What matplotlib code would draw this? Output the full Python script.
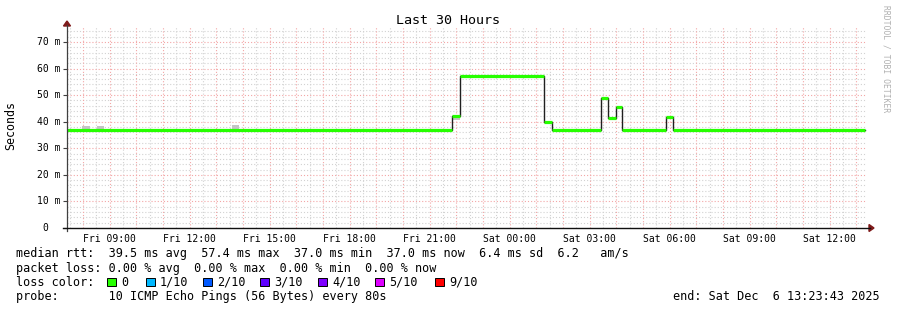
"""Smokeping style latency graph, last 30 hours."""
import matplotlib
matplotlib.use('Agg')

import matplotlib.pyplot as plt
import matplotlib.dates as mdates
from matplotlib.lines import Line2D
from matplotlib.patches import Polygon, Rectangle
import pandas as pd

# --- data ---
start = pd.Timestamp('2025-12-05 07:23:43')
end = pd.Timestamp('2025-12-06 13:23:43')
data_end = pd.Timestamp('2025-12-06 13:19:00')

step_times = [
    '2025-12-05 07:23:43', '2025-12-05 21:49:00', '2025-12-05 22:08:00',
    '2025-12-06 01:18:00', '2025-12-06 01:34:00', '2025-12-06 03:25:00',
    '2025-12-06 03:42:00', '2025-12-06 03:58:00', '2025-12-06 04:13:00',
    '2025-12-06 05:51:00', '2025-12-06 06:07:00',
]
median_ms = [37.0, 42.3, 57.2, 39.8, 37.0, 49.0, 41.5, 45.4, 37.0, 41.9, 37.0]

smoke_start = ['2025-12-05 07:57', '2025-12-05 08:31', '2025-12-05 13:34', '2025-12-05 21:49']
smoke_end = ['2025-12-05 08:15', '2025-12-05 08:47', '2025-12-05 13:51', '2025-12-05 22:08']
smoke_lo = [37.0, 37.0, 37.0, 40.6]
smoke_hi = [38.3, 38.3, 38.6, 42.3]

y_major = [0, 10, 20, 30, 40, 50, 60, 70]
y_labels = ['0', '10 m', '20 m', '30 m', '40 m', '50 m', '60 m', '70 m']

legend_rows = [
    'median rtt:  39.5 ms avg  57.4 ms max  37.0 ms min  37.0 ms now  6.4 ms sd  6.2   am/s',
    'packet loss: 0.00 % avg  0.00 % max  0.00 % min  0.00 % now',
    'loss color:',
    'probe:       10 ICMP Echo Pings (56 Bytes) every 80s',
]
loss_labels = ['0', '1/10', '2/10', '3/10', '4/10', '5/10', '9/10']
loss_colors = ['#26ff00', '#00b8ff', '#0059ff', '#5e00ff', '#7e00ff', '#dd00ff', '#ff0000']
end_label = 'end: Sat Dec  6 13:23:43 2025'

###

W, H = 897, 310
MONO = 'DejaVu Sans Mono'
plt.rcParams['font.family'] = MONO


def fx(x):
    return x / W


def fy(y):
    return 1 - y / H


fig = plt.figure(figsize=(W / 100, H / 100), dpi=100, facecolor='white')

ax_l, ax_r, ax_t, ax_b = 67, 867, 26, 228
ax = fig.add_axes([fx(ax_l), fy(ax_b), (ax_r - ax_l) / W, (ax_b - ax_t) / H])
ax.set_facecolor('white')

ax.set_xlim(start, end)
ax.set_ylim(0, 76)

# grid
dot = (0, (1, 1.8))
for v in range(2, 76, 2):
    if v % 10:
        ax.axhline(v, color='#d2d2d2', lw=0.8, ls=dot, zorder=0)
for t in pd.date_range('2025-12-05 07:30', end, freq='30min'):
    if t.minute == 30:
        ax.axvline(t, color='#d2d2d2', lw=0.8, ls=dot, zorder=0)
for v in y_major[1:]:
    ax.axhline(v, color='#f3a6a6', lw=0.8, ls=dot, zorder=1)
for t in pd.date_range('2025-12-05 08:00', end, freq='1h'):
    ax.axvline(t, color='#f3a6a6', lw=0.8, ls=dot, zorder=1)

# smoke
for s, e, lo, hi in zip(smoke_start, smoke_end, smoke_lo, smoke_hi):
    ax.fill_between([pd.Timestamp(s), pd.Timestamp(e)], lo, hi,
                    color='#c4c4c4', lw=0, zorder=2)

# median: black step, green horizontal segments
t_steps = list(pd.to_datetime(step_times, format='mixed'))
seg_ends = t_steps[1:] + [data_end]
ax.step(t_steps + [data_end], median_ms + [median_ms[-1]], where='post',
        color='#202020', lw=1.0, zorder=3)
ax.hlines(median_ms, t_steps, seg_ends, color=loss_colors[0], lw=2.3, zorder=4)

# axes styling
for sp in ax.spines.values():
    sp.set_visible(False)

ax.set_yticks(y_major)
ax.set_yticklabels([])
ax.tick_params(axis='y', length=3, width=0.8, color='#404040')
for v, lab in zip(y_major, y_labels):
    xr = -0.0085 if lab != '0' else -0.0235
    ax.text(xr, v, lab, transform=ax.get_yaxis_transform(), ha='right',
            va='center', fontsize=7, family=MONO)

ax.xaxis.set_major_locator(mdates.HourLocator(byhour=[0, 3, 6, 9, 12, 15, 18, 21]))
ax.xaxis.set_major_formatter(mdates.DateFormatter('%a %H:%M'))
ax.tick_params(axis='x', length=0, pad=4, labelsize=7)

# axis lines and arrows
arrow_c = '#7f1a1a'
fig.add_artist(Line2D([fx(ax_l), fx(ax_l)], [fy(ax_b + 3), fy(ax_t - 1)],
                      color='#404040', lw=0.9))
fig.add_artist(Line2D([fx(ax_l - 4), fx(ax_r + 3)], [fy(ax_b), fy(ax_b)],
                      color='#101010', lw=1.0))
fig.add_artist(Polygon([[fx(ax_l), fy(21)], [fx(ax_l - 3.5), fy(26)],
                        [fx(ax_l + 3.5), fy(26)]], closed=True,
                       color=arrow_c, transform=fig.transFigure))
fig.add_artist(Polygon([[fx(ax_r + 7), fy(ax_b)], [fx(ax_r + 2), fy(ax_b - 3.5)],
                        [fx(ax_r + 2), fy(ax_b + 3.5)]], closed=True,
                       color=arrow_c, transform=fig.transFigure))

# titles
fig.text(fx(448), fy(20), 'Last 30 Hours', ha='center', va='center', fontsize=9.6)
fig.text(fx(11), fy(126), 'Seconds', ha='center', va='center', rotation=90, fontsize=8.4)
fig.text(fx(886), fy(5), 'RRDTOOL / TOBI OETIKER', ha='center', va='top',
         rotation=270, fontsize=5.8, color='#b0b0b0')

# legend
row_y = [254, 268.3, 282, 296.5]
for txt, y in zip(legend_rows, row_y):
    fig.text(fx(16), fy(y), txt, ha='left', va='center', fontsize=8.45)

box_x = [107, 146, 203, 260, 318, 375, 435]
for bx, lab, col in zip(box_x, loss_labels, loss_colors):
    fig.add_artist(Rectangle((fx(bx), fy(row_y[2] + 4.3)), 8.6 / W, 8.6 / H,
                             facecolor=col, edgecolor='black', lw=0.7,
                             transform=fig.transFigure))
    fig.text(fx(bx + 14), fy(row_y[2]), lab, ha='left', va='center', fontsize=8.45)

fig.text(fx(880), fy(row_y[3]), end_label, ha='right', va='center', fontsize=8.45)

fig.savefig('out.png', dpi=100, facecolor='white')
plt.close(fig)
